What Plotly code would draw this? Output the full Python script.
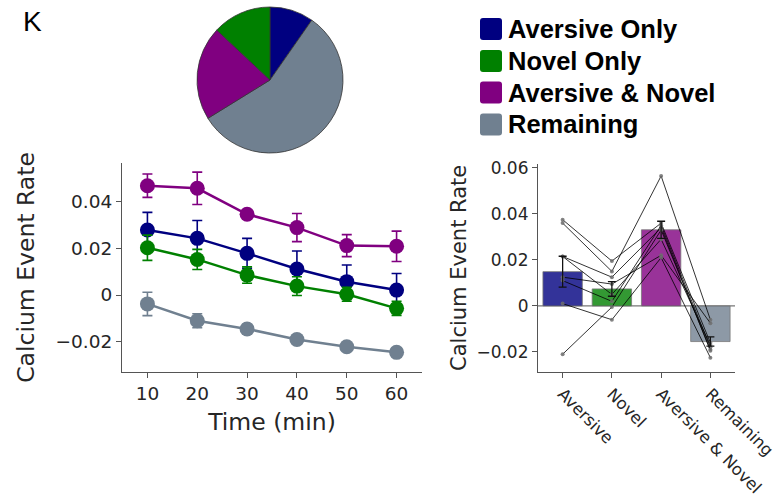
import plotly.graph_objects as go

# Category colours
NAVY, GREEN, PURPLE, SLATE = "#000080", "#008000", "#800080", "#708090"

# Pie: share of cells per response class (clockwise from top)
pie_labels = ["Aversive Only", "Remaining", "Aversive & Novel", "Novel Only"]
pie_values = [9.7, 56.5, 20.8, 13.0]
pie_colors = [NAVY, SLATE, PURPLE, GREEN]

# Legend order
legend_labels = ["Aversive Only", "Novel Only", "Aversive & Novel", "Remaining"]
legend_colors = [NAVY, GREEN, PURPLE, SLATE]

# Time course (mean ± SEM)
time_min = [10, 20, 30, 40, 50, 60]
aversive_mean = [0.0278, 0.0242, 0.0178, 0.0111, 0.0057, 0.0021]
aversive_sem = [0.0075, 0.0076, 0.0064, 0.0077, 0.0071, 0.0071]
novel_mean = [0.0202, 0.0152, 0.0085, 0.0038, 0.0003, -0.0057]
novel_sem = [0.0054, 0.0043, 0.0035, 0.0040, 0.0030, 0.0030]
both_mean = [0.0467, 0.0456, 0.0345, 0.0288, 0.0211, 0.0208]
both_sem = [0.0050, 0.0069, 0.0012, 0.0060, 0.0047, 0.0065]
remain_mean = [-0.0038, -0.0110, -0.0145, -0.0190, -0.0221, -0.0245]
remain_sem = [0.0050, 0.0030, 0.0020, 0.0015, 0.0015, 0.0015]

# Per-animal averages: Aversive, Novel, Aversive & Novel, Remaining
bar_categories = ["Aversive", "Novel", "Aversive & Novel", "Remaining"]
bar_mean = [0.0149, 0.0074, 0.0331, -0.0155]
bar_sem = [0.0067, 0.0032, 0.0037, 0.0020]
bar_colors = ["rgba(0,0,128,0.8)", "rgba(0,128,0,0.8)",
              "rgba(128,0,128,0.8)", "rgba(112,128,144,0.8)"]
animals = [
    [0.0375, 0.0195, 0.0360, -0.0160],
    [0.0360, 0.0150, 0.0565, -0.0060],
    [0.0215, 0.0125, 0.0340, -0.0195],
    [0.0215, 0.0050, 0.0290, -0.0170],
    [0.0125, 0.0095, 0.0220, -0.0075],
    [0.0110, 0.0020, 0.0350, -0.0180],
    [0.0010, -0.0060, 0.0210, -0.0225],
    [-0.0210, -0.0005, 0.0330, -0.0190],
]

W, H = 783, 496
TEXT = "#262626"
LEFT_TICK = dict(family="DejaVu Sans", size=18.5, color=TEXT)
LEFT_TITLE = dict(family="DejaVu Sans", size=23.5, color=TEXT)
RIGHT_TICK = dict(family="DejaVu Sans", size=17, color=TEXT)
RIGHT_CAT = dict(family="DejaVu Sans", size=16.5, color=TEXT)
RIGHT_TITLE = dict(family="DejaVu Sans", size=21, color=TEXT)

fig = go.Figure()

fig.add_trace(go.Pie(
    labels=pie_labels, values=pie_values, sort=False, direction="clockwise",
    rotation=0, marker=dict(colors=pie_colors, line=dict(color="#333333", width=0.8)),
    textinfo="none", hoverinfo="label+percent", showlegend=False,
    domain=dict(x=[197 / W, 343 / W], y=[1 - 153 / H, 1 - 7 / H]),
))

series = [
    (both_mean, both_sem, PURPLE),
    (aversive_mean, aversive_sem, NAVY),
    (novel_mean, novel_sem, GREEN),
    (remain_mean, remain_sem, SLATE),
]
for mean, sem, col in series:
    fig.add_trace(go.Scatter(
        x=time_min, y=mean, mode="lines+markers",
        line=dict(color=col, width=2.5),
        marker=dict(color=col, size=15),
        error_y=dict(type="data", array=sem, color=col, thickness=1.6, width=5),
        showlegend=False, xaxis="x", yaxis="y",
    ))

cat_x = list(range(len(bar_categories)))
fig.add_trace(go.Bar(
    x=cat_x, y=bar_mean, width=0.8,
    marker=dict(color=bar_colors, line=dict(color="rgba(120,120,120,0.8)", width=1)),
    showlegend=False, xaxis="x2", yaxis="y2",
))
for a in animals:
    fig.add_trace(go.Scatter(
        x=cat_x, y=a, mode="lines+markers",
        line=dict(color="rgba(0,0,0,0.8)", width=1),
        marker=dict(color="rgba(110,110,110,0.85)", size=4),
        showlegend=False, xaxis="x2", yaxis="y2",
    ))
fig.add_trace(go.Scatter(
    x=cat_x, y=bar_mean, mode="markers",
    marker=dict(color="rgba(0,0,0,0)", size=1),
    error_y=dict(type="data", array=bar_sem, color="#111111", thickness=1.3, width=4),
    showlegend=False, xaxis="x2", yaxis="y2",
))

# zero baseline across the bar panel
fig.add_shape(type="line", xref="x2 domain", yref="y2", x0=0, x1=1, y0=0, y1=0,
              line=dict(color="#777777", width=1.2), layer="below")

axis_common = dict(showgrid=False, zeroline=False, showline=True, linecolor="#555555",
                   linewidth=1.2, ticks="outside", ticklen=5, tickcolor="#555555",
                   automargin=False)

fig.update_layout(
    width=W, height=H, margin=dict(l=0, r=0, t=0, b=0, autoexpand=False),
    plot_bgcolor="white", paper_bgcolor="white",
    xaxis=dict(domain=[122 / W, 422 / W], anchor="y", range=[4.9, 65.1],
               tickvals=time_min, tickfont=LEFT_TICK,
               title=dict(text="Time (min)", font=LEFT_TITLE, standoff=10),
               **axis_common),
    yaxis=dict(domain=[1 - 372 / H, 1 - 163 / H], anchor="x", range=[-0.0329, 0.0564],
               tickvals=[-0.02, 0, 0.02, 0.04], tickfont=LEFT_TICK,
               title=dict(text="Calcium Event Rate", font=LEFT_TITLE, standoff=14),
               **axis_common),
    xaxis2=dict(domain=[538 / W, 735 / W], anchor="y2", range=[-0.5, 3.5],
                tickvals=cat_x, ticktext=bar_categories, tickangle=45,
                tickfont=RIGHT_CAT, **axis_common),
    yaxis2=dict(domain=[1 - 371.7 / H, 1 - 164 / H], anchor="x2", range=[-0.0286, 0.0617],
                tickvals=[-0.02, 0, 0.02, 0.04, 0.06], tickfont=RIGHT_TICK,
                title=dict(text="Calcium Event Rate", font=RIGHT_TITLE, standoff=4),
                **axis_common),
)

# Panel letter
fig.add_annotation(x=21 / W, y=1 - 4 / H, xref="paper", yref="paper", text="K",
                   showarrow=False, xanchor="left", yanchor="top",
                   font=dict(family="Liberation Sans", size=28, color="black"))


def rounded_square(x0, y0, x1, y1, r):
    """SVG path (pixel coords -> paper coords) for a rounded rectangle."""
    def p(x, y):
        return f"{x / W:.6f},{1 - y / H:.6f}"
    return (f"M{p(x0 + r, y0)} L{p(x1 - r, y0)} Q{p(x1, y0)} {p(x1, y0 + r)} "
            f"L{p(x1, y1 - r)} Q{p(x1, y1)} {p(x1 - r, y1)} L{p(x0 + r, y1)} "
            f"Q{p(x0, y1)} {p(x0, y1 - r)} L{p(x0, y0 + r)} Q{p(x0, y0)} {p(x0 + r, y0)} Z")


# Legend for the pie
row_y = [29, 61, 92.5, 124.5]
for lab, col, yc in zip(legend_labels, legend_colors, row_y):
    fig.add_shape(type="path", xref="paper", yref="paper",
                  path=rounded_square(480, yc - 11, 502, yc + 11, 3),
                  fillcolor=col, line=dict(color=col, width=0))
    fig.add_annotation(x=506 / W, y=1 - yc / H, xref="paper", yref="paper",
                       text="<b>" + lab + "</b>", showarrow=False,
                       xanchor="left", yanchor="middle",
                       font=dict(family="Liberation Sans", size=25.5, color="black"))

fig.write_html("out.html")
